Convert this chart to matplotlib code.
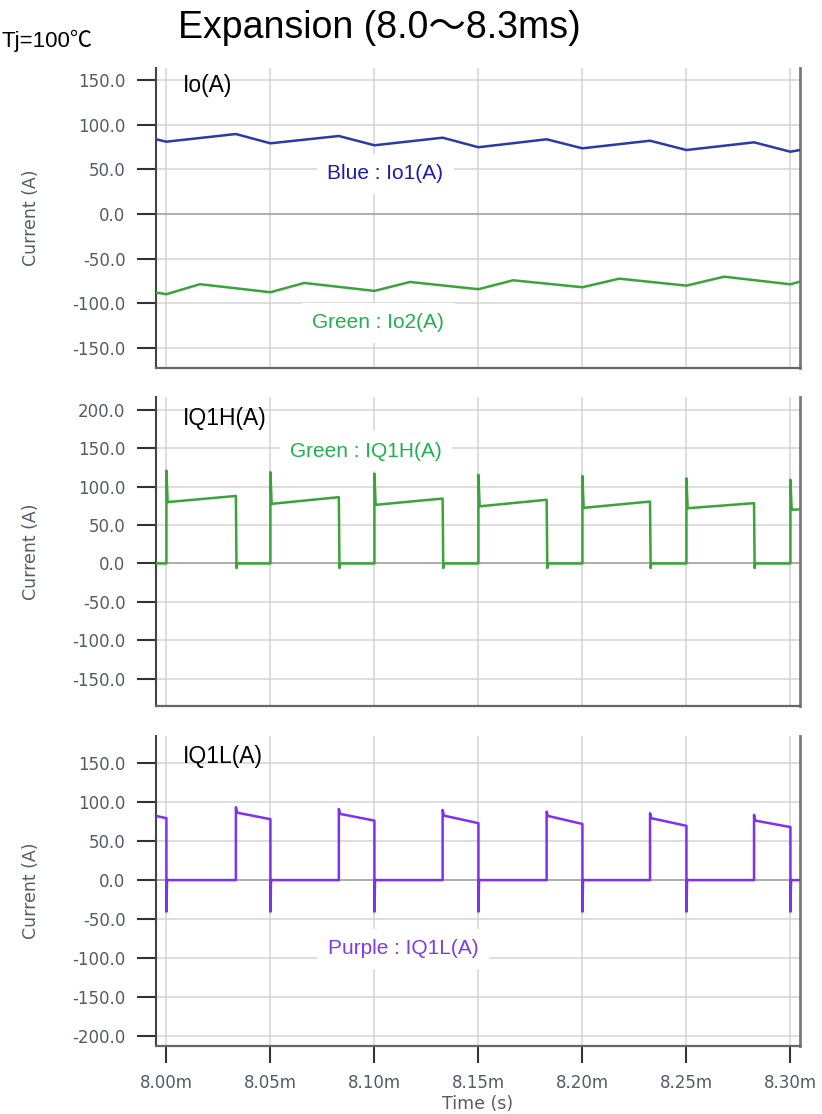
import numpy as np
import matplotlib
matplotlib.use('Agg')
import matplotlib.pyplot as plt

# time axis in ms
x_left = 7.9950
x_right = 8.3046
time_ticks = [8.00, 8.05, 8.10, 8.15, 8.20, 8.25, 8.30]
time_labels = ['8.00m', '8.05m', '8.10m', '8.15m', '8.20m', '8.25m', '8.30m']

# Io1 / Io2 (corner points)
io1_t = [7.9950, 8.000, 8.0334, 8.050, 8.0829, 8.100, 8.1328, 8.150, 8.1828, 8.200, 8.2325, 8.250, 8.2825, 8.300, 8.3046]
io1_v = [83.6, 80.9, 89.5, 79.1, 87.3, 76.9, 85.4, 74.7, 83.6, 73.5, 82.0, 71.6, 80.2, 69.7, 71.6]
io2_t = [7.9950, 8.000, 8.0161, 8.050, 8.0663, 8.100, 8.1171, 8.150, 8.1667, 8.200, 8.2177, 8.250, 8.2681, 8.300, 8.3046]
io2_v = [-88.0, -89.8, -78.6, -87.6, -77.2, -86.1, -76.1, -84.2, -74.2, -82.0, -72.4, -80.2, -70.2, -78.7, -75.7]

# IQ1H switching events
h_on = [8.000, 8.050, 8.100, 8.150, 8.200, 8.250, 8.300]
h_off = [8.0334, 8.0829, 8.1328, 8.1828, 8.2325, 8.2825]
h_spike = [121.0, 119.0, 117.0, 115.5, 114.0, 111.0, 109.0]
h_start = [80.0, 77.7, 76.4, 74.5, 72.5, 72.0, 70.0]
h_end = [88.0, 86.4, 84.6, 83.0, 80.7, 78.6]
h_dip = -6.0

# IQ1L switching events (on at h_off, off at h_on)
l_edge = 82.3
l_spike = [93.4, 91.2, 90.0, 87.8, 85.7, 83.6]
l_start = [86.5, 84.9, 82.7, 82.3, 79.4, 76.3]
l_end = [79.4, 78.1, 76.3, 73.0, 72.0, 69.6, 68.0]
l_dip = -40.5

dt = 0.0006
dd = 0.0003

# build IQ1H waveform
qh_t = [x_left]
qh_v = [0.0]
for k, ton in enumerate(h_on):
    qh_t += [ton, ton, ton + dt]
    qh_v += [0.0, h_spike[k], h_start[k]]
    if k < len(h_off):
        qh_t += [h_off[k], h_off[k] + dd, h_off[k] + 2 * dd]
        qh_v += [h_end[k], h_dip, 0.0]
    else:
        qh_t += [x_right]
        qh_v += [h_start[k] + 0.5]

# build IQ1L waveform
ql_t = [x_left, h_on[0]]
ql_v = [l_edge, l_end[0]]
for k, ton in enumerate(h_on):
    ql_t += [ton, ton + dd]
    ql_v += [l_dip, 0.0]
    if k < len(h_off):
        ql_t += [h_off[k], h_off[k], h_off[k] + dt, h_on[k + 1]]
        ql_v += [0.0, l_spike[k], l_start[k], l_end[k + 1]]
    else:
        ql_t += [x_right]
        ql_v += [0.0]

fig = plt.figure(figsize=(8.22, 11.14), dpi=100)

W = 822.0
H = 1114.0
ax_left = 156 / W
ax_w = 644 / W
panels = [
    # (top px, bottom px, ylim, yticks)
    (68, 368, (-172.4, 163.4), [150, 100, 50, 0, -50, -100, -150]),
    (397, 706, (-185.7, 216.9), [200, 150, 100, 50, 0, -50, -100, -150]),
    (736, 1046, (-212.8, 184.8), [150, 100, 50, 0, -50, -100, -150, -200]),
]

tick_col = '#525c66'
axes = []
for i, (top, bot, ylim, yt) in enumerate(panels):
    ax = fig.add_axes([ax_left, 1 - bot / H, ax_w, (bot - top) / H])
    ax.set_xlim(x_left, x_right)
    ax.set_ylim(*ylim)
    ax.set_yticks(yt)
    ax.set_yticklabels(['%.1f' % v for v in yt])
    ax.set_xticks(time_ticks)
    ax.grid(True, color='#d4d4d4', linewidth=1.1)
    ax.axhline(0, color='#a0a0a0', linewidth=1.1, zorder=1)
    ax.set_axisbelow(True)
    ax.spines['top'].set_visible(False)
    ax.spines['left'].set_color('#444444')
    ax.spines['left'].set_linewidth(1.5)
    ax.spines['bottom'].set_color('#666666')
    ax.spines['bottom'].set_linewidth(1.6)
    ax.spines['right'].set_color('#7a7a7a')
    ax.spines['right'].set_linewidth(2.0)
    ax.tick_params(axis='y', length=14, width=1.5, color='#333333', pad=8,
                   labelsize=12, labelcolor=tick_col)
    if i < 2:
        ax.tick_params(axis='x', length=0, labelbottom=False)
    else:
        ax.set_xticklabels(time_labels)
        ax.tick_params(axis='x', length=12, width=1.5, color='#333333', pad=8,
                       labelsize=12, labelcolor=tick_col)
        ax.set_xlabel('Time (s)', fontsize=12.5, color=tick_col, labelpad=2)
    ax.set_ylabel('Current (A)', fontsize=12.5, color=tick_col)
    ax.yaxis.set_label_coords(-0.18, 0.5)
    axes.append(ax)

ax1, ax2, ax3 = axes

ax1.plot(io1_t, io1_v, color='#2b3aa8', linewidth=1.8, zorder=3)
ax1.plot(io2_t, io2_v, color='#3aa33a', linewidth=1.8, zorder=3)
ax2.plot(qh_t, qh_v, color='#3aa33a', linewidth=1.8, zorder=3)
ax3.plot(ql_t, ql_v, color='#8030f5', linewidth=1.8, zorder=3)

lab_font = ['Liberation Sans', 'DejaVu Sans']
ax1.text(0.042, 0.92, 'Io(A)', transform=ax1.transAxes, fontsize=16.5,
         family=lab_font, va='baseline', zorder=5)
ax2.text(0.042, 0.909, 'IQ1H(A)', transform=ax2.transAxes, fontsize=16.5,
         family=lab_font, va='baseline', zorder=5)
ax3.text(0.042, 0.913, 'IQ1L(A)', transform=ax3.transAxes, fontsize=16.5,
         family=lab_font, va='baseline', zorder=5)

box = dict(facecolor='white', edgecolor='none', boxstyle='square,pad=0.5')
ax1.text(0.356, 0.647, 'Blue : Io1(A)', transform=ax1.transAxes, fontsize=15,
         family=lab_font, color='#1c1ca8', ha='center', va='center', bbox=box, zorder=4)
ax1.text(0.345, 0.15, 'Green : Io2(A)', transform=ax1.transAxes, fontsize=15,
         family=lab_font, color='#1fb04f', ha='center', va='center', bbox=box, zorder=4)
ax2.text(0.326, 0.825, 'Green : IQ1H(A)', transform=ax2.transAxes, fontsize=15,
         family=lab_font, color='#1fb04f', ha='center', va='center', bbox=box, zorder=4)
ax3.text(0.3835, 0.313, 'Purple : IQ1L(A)', transform=ax3.transAxes, fontsize=15,
         family=lab_font, color='#7d3ce6', ha='center', va='center', bbox=box, zorder=4)

title_font = ['Liberation Sans', 'Noto Sans CJK JP']
fig.text(178 / W, 1 - 38 / H, 'Expansion (8.0～8.3ms)', fontsize=27,
         family=title_font, ha='left', va='baseline')
fig.text(1 / W, 1 - 47 / H, 'Tj=100℃', fontsize=16,
         family=title_font, ha='left', va='baseline')

fig.savefig('out.png', dpi=100)
